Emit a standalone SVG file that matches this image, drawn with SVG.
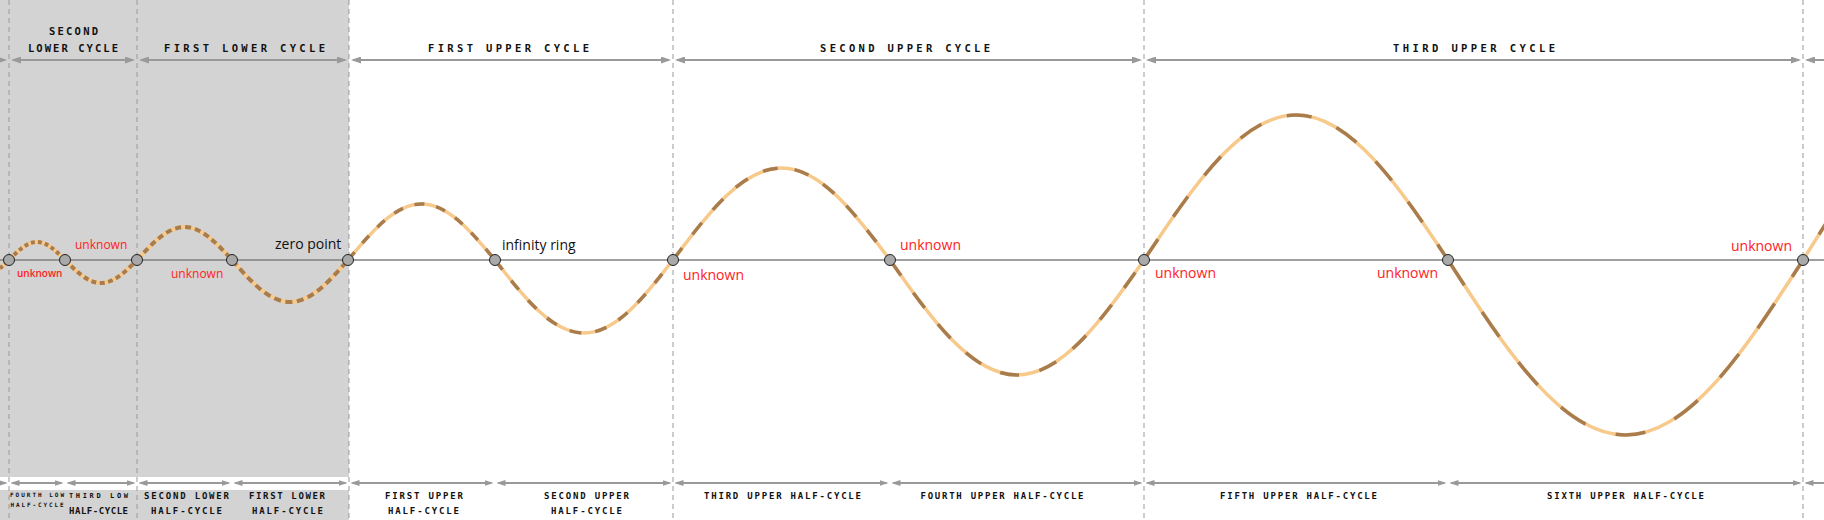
<svg xmlns="http://www.w3.org/2000/svg" width="1824" height="520" viewBox="0 0 1824 520">
<style>
.bg{fill:#d3d3d3}
.vl{stroke:#999;stroke-width:1;stroke-dasharray:5 4;fill:none}
.axis{stroke:#808080;stroke-width:1.4}
.tan{fill:none;stroke:#f7c98b}
.br{fill:none;stroke:#a97c4d}
.lo{stroke-width:4}
.up{stroke-width:3.5}
.nd{fill:#a9a9a9;stroke:#222;stroke-width:1}
.lb{font-family:"Open Sans","Noto Sans",sans-serif;fill:#111;font-size:14px}
.red{fill:#ff2222}
.cy{font-family:"DejaVu Sans Mono","Liberation Mono",monospace;font-weight:bold;fill:#111;text-anchor:middle}
.t10{font-size:10.5px}
.t9{font-size:9px}
.ar{stroke:#999;stroke-width:2;fill:none}
.top .ar{marker-start:url(#ah);marker-end:url(#ah)}
.bot .ar{marker-start:url(#ah2);marker-end:url(#ah2)}
.top .se{marker-start:none}
.top .ss{marker-end:none}
.bot .se{marker-start:none}
.bot .ss{marker-end:none}
</style>
<defs>
<marker id="ah" viewBox="0 0 10 7" refX="8" refY="3.5" markerWidth="10" markerHeight="7" markerUnits="userSpaceOnUse" orient="auto-start-reverse"><path d="M0,0L10,3.5L0,7z" fill="#999"/></marker>
<marker id="ah2" viewBox="0 0 9 6" refX="7" refY="3" markerWidth="9" markerHeight="6" markerUnits="userSpaceOnUse" orient="auto-start-reverse"><path d="M0,0L9,3L0,6z" fill="#999"/></marker>
</defs>

<g id="background">
<rect class="bg" x="0" y="0" width="349" height="477"/>
<rect class="bg" x="0" y="490" width="349" height="30"/>
</g>

<g id="boundaries">
<line class="vl" x1="9" y1="0" x2="9" y2="520"/>
<line class="vl" x1="137" y1="0" x2="137" y2="520"/>
<line class="vl" x1="349" y1="0" x2="349" y2="520"/>
<line class="vl" x1="673" y1="0" x2="673" y2="520"/>
<line class="vl" x1="1144" y1="0" x2="1144" y2="520"/>
<line class="vl" x1="1803" y1="0" x2="1803" y2="520"/>
</g>

<line id="axis" class="axis" x1="0" y1="260" x2="1824" y2="260"/>

<g id="wave">
<path class="tan lo" d="M-36,260 C-28.7,267.2 -21.6,274 -13.5,274 C-5.4,274 1.7,267.2 9,260 C18.1,250.8 26.9,242 37,242 C47.1,242 55.9,250.8 65,260 C76.7,271.8 88,283 101,283 C114,283 125.3,271.8 137,260 C152.5,243.1 167.3,227 184.5,227 C201.7,227 216.5,243.1 232,260 C250.9,281.5 269,302 290,302 C311,302 329.1,281.5 348,260"/>
<path class="tan up" d="M348,260 C372,231.3 394.9,204 421.5,204 C448.1,204 471,231.3 495,260 C524,297.4 551.8,333 584,333 C616.2,333 644,297.4 673,260 C708.4,212.9 742.2,168 781.5,168 C820.8,168 854.6,212.9 890,260 C931.4,318.9 971,375 1017,375 C1063,375 1102.6,318.9 1144,260 C1193.6,185.8 1241,115 1296,115 C1351,115 1398.4,185.8 1448,260 C1505.9,349.6 1561.2,435 1625.5,435 C1689.8,435 1745.1,349.6 1803,260 C1871.5,150 1937,45 2013,45"/>
<path class="br lo" stroke-dasharray="3.5 2.5" d="M-36,260 C-28.7,267.2 -21.6,274 -13.5,274 C-5.4,274 1.7,267.2 9,260"/>
<path class="br lo" stroke-dasharray="4 3" d="M9,260 C18.1,250.8 26.9,242 37,242 C47.1,242 55.9,250.8 65,260"/>
<path class="br lo" stroke-dasharray="5 3.5" d="M65,260 C76.7,271.8 88,283 101,283 C114,283 125.3,271.8 137,260"/>
<path class="br lo" stroke-dasharray="6 4" d="M137,260 C152.5,243.1 167.3,227 184.5,227 C201.7,227 216.5,243.1 232,260"/>
<path class="br lo" stroke-dasharray="7 4.5" d="M232,260 C250.9,281.5 269,302 290,302 C311,302 329.1,281.5 348,260"/>
<path class="br up" stroke-dasharray="10 12" d="M348,260 C372,231.3 394.9,204 421.5,204 C448.1,204 471,231.3 495,260"/>
<path class="br up" stroke-dasharray="12 14" d="M495,260 C524,297.4 551.8,333 584,333 C616.2,333 644,297.4 673,260"/>
<path class="br up" stroke-dasharray="15 17" d="M673,260 C708.4,212.9 742.2,168 781.5,168 C820.8,168 854.6,212.9 890,260"/>
<path class="br up" stroke-dasharray="19 21" d="M890,260 C931.4,318.9 971,375 1017,375 C1063,375 1102.6,318.9 1144,260"/>
<path class="br up" stroke-dasharray="25 27" d="M1144,260 C1193.6,185.8 1241,115 1296,115 C1351,115 1398.4,185.8 1448,260"/>
<path class="br up" stroke-dasharray="30 32" d="M1448,260 C1505.9,349.6 1561.2,435 1625.5,435 C1689.8,435 1745.1,349.6 1803,260"/>
<path class="br up" stroke-dasharray="35 35" stroke-dashoffset="-30" d="M1803,260 C1871.5,150 1937,45 2013,45"/>
</g>

<g id="node-1"><circle class="nd" cx="9" cy="260" r="5.5"/><text class="lb red" x="17" y="277" style="font-size:10px;font-weight:600">unknown</text></g>
<g id="node-2"><circle class="nd" cx="65" cy="260" r="5.5"/><text class="lb red" x="75" y="248.5" style="font-size:12px">unknown</text></g>
<g id="node-3"><circle class="nd" cx="137" cy="260" r="5.5"/><text class="lb red" x="171" y="277.5" style="font-size:12px">unknown</text></g>
<g id="node-4"><circle class="nd" cx="232" cy="260" r="5.5"/></g>
<g id="node-zero-point"><circle class="nd" cx="348" cy="260" r="5.5"/><text class="lb" x="275" y="249">zero point</text></g>
<g id="node-infinity-ring"><circle class="nd" cx="495" cy="260" r="5.5"/><text class="lb" x="502" y="250">infinity ring</text></g>
<g id="node-7"><circle class="nd" cx="673" cy="260" r="5.5"/><text class="lb red" x="683" y="280">unknown</text></g>
<g id="node-8"><circle class="nd" cx="890" cy="260" r="5.5"/><text class="lb red" x="900" y="250">unknown</text></g>
<g id="node-9"><circle class="nd" cx="1144" cy="260" r="5.5"/><text class="lb red" x="1155" y="278">unknown</text></g>
<g id="node-10"><circle class="nd" cx="1448" cy="260" r="5.5"/><text class="lb red" x="1377" y="278">unknown</text></g>
<g id="node-11"><circle class="nd" cx="1803" cy="260" r="5.5"/><text class="lb red" x="1731" y="251">unknown</text></g>

<g id="connectors">
<g class="top">
<line class="ar se" x1="-10" y1="60" x2="5" y2="60"/>
<line class="ar" x1="13" y1="60" x2="133" y2="60"/>
<line class="ar" x1="141" y1="60" x2="345" y2="60"/>
<line class="ar" x1="353" y1="60" x2="669" y2="60"/>
<line class="ar" x1="677" y1="60" x2="1140" y2="60"/>
<line class="ar" x1="1148" y1="60" x2="1799" y2="60"/>
<line class="ar ss" x1="1807" y1="60" x2="1834" y2="60"/>
</g>
<g class="bot">
<line class="ar se" x1="-10" y1="483" x2="5.5" y2="483"/>
<line class="ar" x1="12.5" y1="483" x2="61.5" y2="483"/>
<line class="ar" x1="68.5" y1="483" x2="133.5" y2="483"/>
<line class="ar" x1="140.5" y1="483" x2="228.5" y2="483"/>
<line class="ar" x1="235.5" y1="483" x2="345.5" y2="483"/>
<line class="ar" x1="352.5" y1="483" x2="491.5" y2="483"/>
<line class="ar" x1="498.5" y1="483" x2="669.5" y2="483"/>
<line class="ar" x1="676.5" y1="483" x2="886.5" y2="483"/>
<line class="ar" x1="893.5" y1="483" x2="1140.5" y2="483"/>
<line class="ar" x1="1147.5" y1="483" x2="1444.5" y2="483"/>
<line class="ar" x1="1451.5" y1="483" x2="1799.5" y2="483"/>
<line class="ar ss" x1="1806.5" y1="483" x2="1834" y2="483"/>
</g>
</g>

<g id="cycle-labels">
<text class="cy t10" x="73.5" y="35" textLength="49" lengthAdjust="spacing">SECOND</text>
<text class="cy t10" x="73" y="52" textLength="90" lengthAdjust="spacing">LOWER CYCLE</text>
<text class="cy t10" x="244.5" y="52" textLength="161" lengthAdjust="spacing">FIRST LOWER CYCLE</text>
<text class="cy t10" x="508.5" y="52" textLength="161" lengthAdjust="spacing">FIRST UPPER CYCLE</text>
<text class="cy t10" x="905" y="52" textLength="170" lengthAdjust="spacing">SECOND UPPER CYCLE</text>
<text class="cy t10" x="1474" y="52" textLength="162" lengthAdjust="spacing">THIRD UPPER CYCLE</text>
</g>

<g id="half-cycle-labels">
<text class="cy" style="font-size:6px" x="37" y="497.3" textLength="54" lengthAdjust="spacing">FOURTH LOW</text>
<text class="cy" style="font-size:6px" x="37" y="506.7" textLength="53" lengthAdjust="spacing">HALF-CYCLE</text>
<text class="cy" style="font-size:7px" x="98.5" y="497.7" textLength="59" lengthAdjust="spacing">THIRD LOW</text>
<text class="cy t9" x="98.5" y="514" textLength="59" lengthAdjust="spacing">HALF-CYCLE</text>
<text class="cy t9" x="186.5" y="498.7" textLength="85" lengthAdjust="spacing">SECOND LOWER</text>
<text class="cy t9" x="186.5" y="514" textLength="71" lengthAdjust="spacing">HALF-CYCLE</text>
<text class="cy t9" x="287" y="498.7" textLength="76" lengthAdjust="spacing">FIRST LOWER</text>
<text class="cy t9" x="287.5" y="514" textLength="71" lengthAdjust="spacing">HALF-CYCLE</text>
<text class="cy t9" x="424" y="499" textLength="78" lengthAdjust="spacing">FIRST UPPER</text>
<text class="cy t9" x="423.5" y="514" textLength="71" lengthAdjust="spacing">HALF-CYCLE</text>
<text class="cy t9" x="586.5" y="499" textLength="85" lengthAdjust="spacing">SECOND UPPER</text>
<text class="cy t9" x="586.5" y="514" textLength="71" lengthAdjust="spacing">HALF-CYCLE</text>
<text class="cy t9" x="782.5" y="499" textLength="157" lengthAdjust="spacing">THIRD UPPER HALF-CYCLE</text>
<text class="cy t9" x="1002" y="499" textLength="163" lengthAdjust="spacing">FOURTH UPPER HALF-CYCLE</text>
<text class="cy t9" x="1298.5" y="499" textLength="157" lengthAdjust="spacing">FIFTH UPPER HALF-CYCLE</text>
<text class="cy t9" x="1625.5" y="499" textLength="157" lengthAdjust="spacing">SIXTH UPPER HALF-CYCLE</text>
</g>
</svg>
